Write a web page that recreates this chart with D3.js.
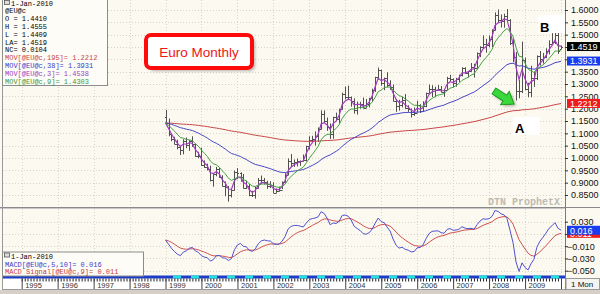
<!DOCTYPE html>
<html><head><meta charset="utf-8">
<script src="https://cdn.jsdelivr.net/npm/d3@7"></script>
<style>html,body{margin:0;padding:0;background:#fff;}svg{display:block;}</style>
</head><body><svg id="c" width="600" height="294"></svg>
<script>
// ---------- DATA (monthly @EU@C, Jan 1999 .. Jan 2010) ----------
const firstMonth = [1999, 0];
const opens = [
 1.167,1.142,1.098,1.077,1.058,1.043,1.032,1.069,1.054,1.068,1.056,1.008,
 1.007,0.971,0.965,0.956,0.912,0.934,0.954,0.924,0.888,0.884,0.851,0.872,
 0.942,0.938,0.922,0.880,0.887,0.848,0.850,0.877,0.911,0.910,0.901,0.888,
 0.890,0.860,0.868,0.872,0.901,0.933,0.988,0.978,0.982,0.987,0.988,0.993,
 1.049,1.073,1.079,1.091,1.117,1.179,1.149,1.124,1.098,1.165,1.159,1.199,
 1.259,1.246,1.246,1.230,1.196,1.219,1.217,1.202,1.218,1.242,1.277,1.327,
 1.357,1.304,1.324,1.296,1.287,1.230,1.210,1.213,1.234,1.202,1.199,1.179,
 1.184,1.216,1.192,1.212,1.262,1.281,1.279,1.276,1.281,1.267,1.275,1.325,
 1.319,1.303,1.322,1.335,1.365,1.345,1.353,1.369,1.364,1.426,1.448,1.464,
 1.459,1.482,1.518,1.581,1.559,1.555,1.576,1.560,1.467,1.409,1.273,1.270,
 1.398,1.281,1.266,1.325,1.323,1.415,1.403,1.409,1.433,1.464,1.472,1.500,
 1.4410];
const highs = [
 1.195,1.160,1.100,1.086,1.074,1.050,1.076,1.083,1.072,1.088,1.058,1.025,
 1.041,0.990,0.977,0.969,0.934,0.964,0.960,0.930,0.905,0.886,0.876,0.949,
 0.959,0.942,0.935,0.908,0.895,0.867,0.884,0.919,0.929,0.919,0.908,0.906,
 0.902,0.877,0.884,0.905,0.938,0.998,1.016,0.994,0.998,0.990,1.014,1.050,
 1.088,1.090,1.108,1.124,1.193,1.193,1.164,1.140,1.167,1.184,1.200,1.265,
 1.290,1.293,1.249,1.242,1.229,1.228,1.245,1.239,1.244,1.281,1.329,1.367,
 1.358,1.326,1.348,1.315,1.298,1.239,1.236,1.248,1.259,1.214,1.201,1.205,
 1.232,1.218,1.230,1.265,1.298,1.295,1.289,1.296,1.292,1.280,1.329,1.337,
 1.323,1.325,1.338,1.368,1.368,1.353,1.385,1.382,1.428,1.453,1.497,1.483,
 1.497,1.522,1.590,1.602,1.582,1.585,1.604,1.563,1.487,1.430,1.317,1.472,
 1.407,1.305,1.374,1.348,1.416,1.434,1.426,1.445,1.477,1.506,1.514,1.514,
 1.4555];
const lows = [
 1.135,1.088,1.068,1.056,1.035,1.012,1.015,1.040,1.029,1.045,1.005,0.999,
 0.968,0.960,0.950,0.905,0.884,0.926,0.920,0.885,0.845,0.823,0.840,0.868,
 0.914,0.904,0.876,0.875,0.845,0.842,0.835,0.876,0.895,0.892,0.875,0.878,
 0.858,0.858,0.864,0.874,0.900,0.931,0.964,0.964,0.966,0.968,0.986,0.986,
 1.034,1.065,1.050,1.065,1.115,1.141,1.110,1.077,1.078,1.152,1.140,1.196,
 1.238,1.239,1.208,1.180,1.176,1.200,1.202,1.203,1.205,1.231,1.268,1.317,
 1.293,1.275,1.287,1.276,1.230,1.187,1.192,1.205,1.199,1.187,1.164,1.171,
 1.184,1.183,1.187,1.206,1.263,1.247,1.246,1.273,1.266,1.248,1.276,1.311,
 1.287,1.289,1.308,1.331,1.341,1.326,1.350,1.326,1.359,1.409,1.445,1.427,
 1.449,1.450,1.517,1.551,1.529,1.528,1.560,1.458,1.388,1.233,1.242,1.263,
 1.275,1.246,1.246,1.288,1.316,1.375,1.383,1.405,1.420,1.458,1.462,1.422,
 1.4409];
const closes = [
 1.142,1.098,1.077,1.058,1.043,1.032,1.069,1.054,1.068,1.056,1.008,1.007,
 0.971,0.965,0.956,0.912,0.934,0.954,0.924,0.888,0.884,0.851,0.872,0.942,
 0.938,0.922,0.880,0.887,0.848,0.850,0.877,0.911,0.910,0.901,0.888,0.890,
 0.860,0.868,0.872,0.901,0.933,0.988,0.978,0.982,0.987,0.988,0.993,1.049,
 1.073,1.079,1.091,1.117,1.179,1.149,1.124,1.098,1.165,1.159,1.199,1.259,
 1.246,1.246,1.230,1.196,1.219,1.217,1.202,1.218,1.242,1.277,1.327,1.357,
 1.304,1.324,1.296,1.287,1.230,1.210,1.213,1.234,1.202,1.199,1.179,1.184,
 1.216,1.192,1.212,1.262,1.281,1.279,1.276,1.281,1.267,1.275,1.325,1.319,
 1.303,1.322,1.335,1.365,1.345,1.353,1.369,1.364,1.426,1.448,1.464,1.459,
 1.482,1.518,1.581,1.559,1.555,1.576,1.560,1.467,1.409,1.273,1.270,1.398,
 1.281,1.266,1.325,1.323,1.415,1.403,1.409,1.433,1.464,1.472,1.500,1.433,
 1.4519];
// indicator periods (as labelled on the chart)
const maPeriods = [195, 38, 3, 9];
const maColors  = ["#c84646", "#4646c8", "#a23cc0", "#46a046"];
const macdFast = 5, macdSlow = 10, macdSignal = 9;
// axis ticks and labels (ticks hidden behind the value boxes are not labelled)
const priceTicks = [0.85,0.90,0.95,1.00,1.05,1.10,1.15,1.20,1.25,1.30,1.35,1.40,1.45,1.50,1.55,1.60];
const priceLabelHidden = [1.40, 1.45];
const macdTicks = [0.03,0.01,-0.01,-0.03,-0.05];
const macdLabelHidden = [0.01];
const yearTicks = [1995,1996,1997,1998,1999,2000,2001,2002,2003,2004,2005,2006,2007,2008,2009,2010];
const lastMarkers = [ {v:1.2212, bg:"#ee1c1c", t:"1.2212"}, {v:1.3931, bg:"#1a3cf0", t:"1.3931"}, {v:1.4519, bg:"#000000", t:"1.4519"} ];
const macdMarkers = [ {v:0.011, bg:"#ee1c1c", t:"0.011"}, {v:0.016, bg:"#1a3cf0", t:"0.016"} ];
const legendLines = [
 {t:"1-Jan-2010", c:"#000"}, {t:"@EU@c", c:"#000"}, {t:"O = 1.4410", c:"#000"}, {t:"H = 1.4555", c:"#000"},
 {t:"L = 1.4409", c:"#000"}, {t:"LA= 1.4519", c:"#000"}, {t:"NC= 0.0104", c:"#000"},
 {t:"MOV[@EU@c,195]= 1.2212", c:"#c84646"}, {t:"MOV[@EU@c,38]= 1.3931", c:"#3c3cc8"},
 {t:"MOV[@EU@c,3]= 1.4538", c:"#a23cc0"}, {t:"MOV[@EU@c,9]= 1.4303", c:"#3c9a3c"} ];
const macdLegend = [ {t:"1-Jan-2010", c:"#000"}, {t:"MACD[@EU@c,5,10]= 0.016", c:"#3c3cc8"}, {t:"MACD Signal[@EU@c,9]= 0.011", c:"#c83c3c"} ];

// ---------- helpers ----------
function ema(vals, n){ const a = 2/(n+1); let e; return vals.map((v,i)=> (e = i===0 ? v : a*v + (1-a)*e)); }
const dates = closes.map((d,i)=> new Date(firstMonth[0], firstMonth[1]+i, 1));

const svg = d3.select("#c");
const W = 600, H = 294;
const M = {x0:3, x1:565, y0:0, y1:207};
const P = {y0:209, y1:275};
const bg = "#fcfaf0";

const x = d3.scaleTime().domain([new Date(1995,0,1), new Date(2010,0,1)]).range([21.7, 561]);
const y = d3.scaleLinear().domain([0.85, 1.60]).range([195, 10]);
const ym = d3.scaleLinear().domain([-0.05, 0.03]).range([270.7, 221.7]);

const defs = svg.append("defs");
defs.append("clipPath").attr("id","cm").append("rect").attr("x",M.x0).attr("y",M.y0).attr("width",M.x1-M.x0).attr("height",M.y1-M.y0);
defs.append("clipPath").attr("id","cp").append("rect").attr("x",M.x0).attr("y",P.y0).attr("width",M.x1-M.x0).attr("height",P.y1-P.y0);
defs.append("clipPath").attr("id","ct").append("rect").attr("x",0).attr("y",270).attr("width",565).attr("height",24);
const f = defs.append("filter").attr("id","sh").attr("x","-20%").attr("y","-20%").attr("width","150%").attr("height","160%");
f.append("feGaussianBlur").attr("stdDeviation",1.5);

// backgrounds
svg.append("rect").attr("width",W).attr("height",H).attr("fill",bg);

// grid
const gm = svg.append("g").attr("clip-path","url(#cm)");
gm.selectAll("line.h").data(priceTicks).join("line")
  .attr("x1",M.x0).attr("x2",M.x1).attr("y1",d=>Math.round(y(d))+0.5).attr("y2",d=>Math.round(y(d))+0.5)
  .attr("stroke","#d9d5c6").attr("stroke-dasharray","1,2");
const yearDates = yearTicks.map(v=>new Date(v,0,1));
gm.selectAll("line.v").data(yearDates).join("line")
  .attr("x1",d=>Math.round(x(d))+0.5).attr("x2",d=>Math.round(x(d))+0.5).attr("y1",M.y0).attr("y2",M.y1)
  .attr("stroke","#d9d5c6").attr("stroke-dasharray","1,2");
const gp = svg.append("g").attr("clip-path","url(#cp)");
gp.selectAll("line.h").data(macdTicks).join("line")
  .attr("x1",M.x0).attr("x2",M.x1).attr("y1",d=>Math.round(ym(d))+0.5).attr("y2",d=>Math.round(ym(d))+0.5)
  .attr("stroke","#d9d5c6").attr("stroke-dasharray","1,2");
gp.selectAll("line.v").data(yearDates).join("line")
  .attr("x1",d=>Math.round(x(d))+0.5).attr("x2",d=>Math.round(x(d))+0.5).attr("y1",P.y0).attr("y2",P.y1)
  .attr("stroke","#d9d5c6").attr("stroke-dasharray","1,2");

// watermark
svg.append("text").attr("x",488).attr("y",205).attr("font-family","Liberation Mono, DejaVu Sans Mono, monospace")
  .attr("font-size",10).attr("font-weight","bold").attr("fill","#bdbab0").text("DTN ProphetX");

// OHLC bars
const gb = gm.append("g").attr("stroke","#505050").attr("stroke-width",1);
dates.forEach((d,i)=>{
  const xx = Math.round(x(d))+0.5;
  gb.append("line").attr("x1",xx).attr("x2",xx).attr("y1",y(highs[i])).attr("y2",y(lows[i]));
  gb.append("line").attr("x1",xx-1.5).attr("x2",xx).attr("y1",Math.round(y(opens[i]))+0.5).attr("y2",Math.round(y(opens[i]))+0.5);
  gb.append("line").attr("x1",xx).attr("x2",xx+1.5).attr("y1",Math.round(y(closes[i]))+0.5).attr("y2",Math.round(y(closes[i]))+0.5);
});

// moving averages
const lineP = d3.line().x((d,i)=>x(dates[i])).y(d=>y(d));
maPeriods.forEach((p,k)=>{
  gm.append("path").datum(ema(closes,p)).attr("d",lineP).attr("fill","none")
    .attr("stroke",maColors[k]).attr("stroke-width", p===3 ? 1.2 : 1);
});

// MACD
const emaSlow = ema(closes,macdSlow);
const macd = ema(closes,macdFast).map((v,i)=> v - emaSlow[i]);
const sig = ema(macd, macdSignal);
const lineM = d3.line().x((d,i)=>x(dates[i])).y(d=>ym(d));
gp.append("path").datum(sig).attr("d",lineM).attr("fill","none").attr("stroke","#d05050").attr("stroke-width",1);
gp.append("path").datum(macd).attr("d",lineM).attr("fill","none").attr("stroke","#5050d0").attr("stroke-width",1);

// panel borders
svg.append("line").attr("x1",0).attr("x2",W).attr("y1",207.5).attr("y2",207.5).attr("stroke","#8a8a8a");
svg.append("line").attr("x1",0).attr("x2",565).attr("y1",208.5).attr("y2",208.5).attr("stroke","#c8c8c8");
svg.append("line").attr("x1",565.5).attr("x2",565.5).attr("y1",0).attr("y2",290).attr("stroke","#7a7a7a");
svg.append("line").attr("x1",2.5).attr("x2",2.5).attr("y1",0).attr("y2",290).attr("stroke","#9a9a9a");

// right price axis
const fontAx = "Liberation Sans, Arial, sans-serif";
const ax = svg.append("g").attr("transform","translate(565,0)")
  .call(d3.axisRight(y).tickValues(priceTicks)
    .tickFormat(d=> priceLabelHidden.some(h=>Math.abs(h-d)<1e-9) ? "" : d3.format(".4f")(d)).tickSize(3).tickPadding(3));
ax.select(".domain").remove();
ax.selectAll("text").attr("font-family",fontAx).attr("font-size",9).attr("fill","#111");
ax.selectAll("line").attr("stroke","#333");
const axm = svg.append("g").attr("transform","translate(565,0)")
  .call(d3.axisRight(ym).tickValues(macdTicks)
    .tickFormat(d=> macdLabelHidden.some(h=>Math.abs(h-d)<1e-9) ? "" : d3.format(".3f")(d)).tickSize(3).tickPadding(3));
axm.select(".domain").remove();
axm.selectAll("text").attr("font-family",fontAx).attr("font-size",9).attr("fill","#111").attr("x",d=> d<0 ? 2 : 6);
axm.selectAll("line").attr("stroke","#333");

// last-value markers
function marker(scale, m){
  const yy = scale(m.v);
  svg.append("rect").attr("x",567).attr("y",yy-4.5).attr("width",33).attr("height",9).attr("fill",m.bg);
  svg.append("text").attr("x",570).attr("y",yy+3.3).attr("font-family",fontAx).attr("font-size",9).attr("fill","#fff").text(m.t);
}
lastMarkers.forEach(m=>marker(y,m));
macdMarkers.forEach(m=>marker(ym,m));

// time axis strip
svg.append("rect").attr("x",3).attr("y",278).attr("width",562).attr("height",11).attr("fill","#ffffff");
svg.append("rect").attr("x",3).attr("y",275.5).attr("width",562).attr("height",3).attr("fill","#1c3cc8");
svg.append("line").attr("x1",173).attr("x2",565).attr("y1",277).attr("y2",277).attr("stroke","#22e0e0").attr("stroke-width",3).attr("stroke-dasharray","8,10");
const mAx = svg.append("g").attr("transform","translate(0,278.5)")
  .call(d3.axisBottom(x).ticks(d3.timeMonth.every(1)).tickSize(3).tickFormat(""));
mAx.select(".domain").remove();
mAx.selectAll("line").attr("stroke","#222");
mAx.selectAll(".tick").filter(d=> d < new Date(1994,6,1)).remove();
const yAx = svg.append("g").attr("clip-path","url(#ct)").append("g").attr("transform","translate(0,278.5)")
  .call(d3.axisBottom(x).tickValues(yearDates).tickSize(11).tickFormat(d3.timeFormat("%Y")));
yAx.select(".domain").remove();
yAx.selectAll("line").attr("stroke","#444");
yAx.selectAll("text").attr("font-family",fontAx).attr("font-size",7.5).attr("fill","#333")
  .attr("text-anchor","start").attr("x",3).attr("y",4).attr("dy","0.71em");
svg.append("line").attr("x1",3).attr("x2",565).attr("y1",289.5).attr("y2",289.5).attr("stroke","#9a9a9a");
svg.append("rect").attr("x",0).attr("y",290).attr("width",W).attr("height",4).attr("fill","#d4d0c8");
// "1 Mon" box
svg.append("rect").attr("x",566).attr("y",278.5).attr("width",33.5).attr("height",11).attr("fill","#f4f4f0").attr("stroke","#999");
svg.append("text").attr("x",571).attr("y",287).attr("font-family",fontAx).attr("font-size",8).attr("fill","#111").text("1 Mon");

// legends
const fontMono = "Liberation Mono, DejaVu Sans Mono, monospace";
function legend(x0,y0,w,h,lines,step,first){
  svg.append("rect").attr("x",x0+0.5).attr("y",y0+0.5).attr("width",w).attr("height",h).attr("fill","#fdfcf7").attr("stroke","#8c8c8c");
  svg.append("rect").attr("x",x0+2.5).attr("y",y0+1.5).attr("width",5).attr("height",4).attr("fill","#ddd").attr("stroke","#555").attr("stroke-width",0.8);
  lines.forEach((l,i)=>{
    svg.append("text").attr("x", i===0 ? x0+9 : x0+3).attr("y",first+i*step)
      .attr("font-family",fontMono).attr("font-size",7).attr("fill",l.c).text(l.t);
  });
}
legend(2,-1,105,86,legendLines,7.8,5.6);
legend(2,251.5,141,24,macdLegend,7.5,259.2);

// "Euro Monthly" title box
svg.append("rect").attr("x",149).attr("y",38).attr("width",106).attr("height",33).attr("rx",5)
  .attr("fill","#555").attr("opacity",0.45).attr("filter","url(#sh)");
svg.append("rect").attr("x",146).attr("y",35).attr("width",106).attr("height",33).attr("rx",5)
  .attr("fill","#fff").attr("stroke","#ff0a0a").attr("stroke-width",4);
svg.append("text").attr("x",199).attr("y",57).attr("text-anchor","middle").attr("font-family",fontAx)
  .attr("font-size",13.5).attr("fill","#f01414").text("Euro Monthly");

// annotations A / B
svg.append("rect").attr("x",538).attr("y",15).attr("width",27).attr("height",18).attr("fill","#fff");
svg.append("text").attr("x",540).attr("y",31.5).attr("font-family","Liberation Sans Narrow, Liberation Sans, sans-serif")
  .attr("font-weight","bold").attr("font-size",13).attr("fill","#000").text("B");
svg.append("rect").attr("x",513).attr("y",117).attr("width",27).attr("height",18).attr("fill","#fff");
svg.append("text").attr("x",515).attr("y",132.5).attr("font-family","Liberation Sans Narrow, Liberation Sans, sans-serif")
  .attr("font-weight","bold").attr("font-size",13).attr("fill","#000").text("A");

// green arrow
const arrowPts = [[0,-3.5],[13,-3.5],[13,-8],[24,0],[13,8],[13,3.5],[0,3.5]];
svg.append("polygon").attr("points",arrowPts.map(p=>p.join(",")).join(" "))
  .attr("transform","translate(496,93) rotate(33)").attr("fill","#333").attr("opacity",0.35).attr("filter","url(#sh)");
svg.append("polygon").attr("points",arrowPts.map(p=>p.join(",")).join(" "))
  .attr("transform","translate(494,91) rotate(33)").attr("fill","#3ad83a").attr("stroke","#1f9a1f").attr("stroke-width",1);
</script></body></html>
